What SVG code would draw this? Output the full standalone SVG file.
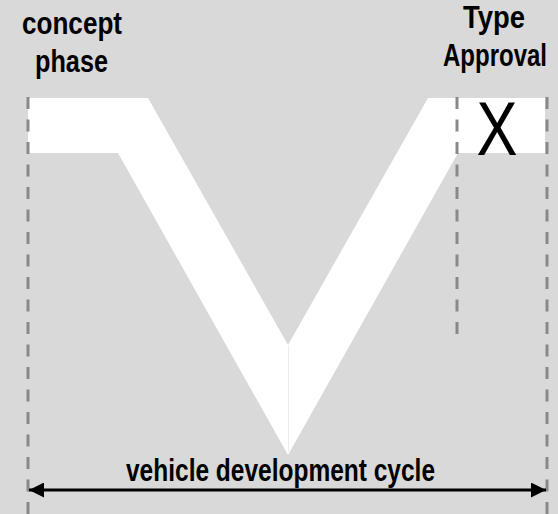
<svg xmlns="http://www.w3.org/2000/svg" width="558" height="514" viewBox="0 0 558 514">
  <style>
    .lbl { font-family: "Liberation Sans", Arial, sans-serif; font-weight: bold; font-size: 32px; fill: #000; text-anchor: middle; }
    .mark { font-family: "Liberation Sans", Arial, sans-serif; font-size: 76px; fill: #000; text-anchor: middle; }
    .guide { stroke: #898989; stroke-width: 3; stroke-dasharray: 12 10.5; fill: none; }
    .vee { fill: #ffffff; }
    .seam { stroke: #ececec; stroke-width: 1; }
  </style>
  <defs>
    <marker id="arrowhead" viewBox="0 0 10 10" refX="10" refY="5" markerWidth="5.5" markerHeight="5" markerUnits="strokeWidth" orient="auto-start-reverse">
      <path d="M0,0 L10,5 L0,10 Z" fill="#000"/>
    </marker>
  </defs>

  <rect x="0" y="0" width="558" height="514" fill="#d9d9d9"/>

  <!-- V-model shape: descending and ascending halves -->
  <g id="v-left">
    <polygon class="vee" points="28,98 148,98 288,345 288,455 118,153 28,153"/>
  </g>
  <g id="v-right">
    <polygon class="vee" points="288,345 428,98 545,98 545,153 458,153 288,455"/>
    <line class="seam" x1="288.5" y1="346" x2="288.5" y2="452"/>
  </g>

  <!-- phase boundary guides -->
  <g id="guides">
    <line class="guide" x1="28" y1="97" x2="28" y2="514"/>
    <line class="guide" x1="547" y1="97" x2="547" y2="514"/>
    <line class="guide" x1="457" y1="97" x2="457" y2="334"/>
  </g>

  <g id="concept-phase">
    <text class="lbl" x="72" y="34" textLength="100" lengthAdjust="spacingAndGlyphs">concept</text>
    <text class="lbl" x="71.5" y="72" textLength="73" lengthAdjust="spacingAndGlyphs">phase</text>
  </g>

  <g id="type-approval">
    <text class="lbl" x="494" y="28" textLength="62" lengthAdjust="spacingAndGlyphs">Type</text>
    <text class="lbl" x="495" y="66" font-size="31" textLength="104" lengthAdjust="spacingAndGlyphs">Approval</text>
    <text class="mark" x="497" y="155" textLength="41" lengthAdjust="spacingAndGlyphs">X</text>
  </g>

  <g id="connectors">
    <line x1="29" y1="490" x2="546" y2="490" stroke="#000" stroke-width="3" marker-start="url(#arrowhead)" marker-end="url(#arrowhead)"/>
  </g>

  <g id="cycle-label">
    <text class="lbl" x="280.5" y="481" textLength="309" lengthAdjust="spacingAndGlyphs">vehicle development cycle</text>
  </g>
</svg>
